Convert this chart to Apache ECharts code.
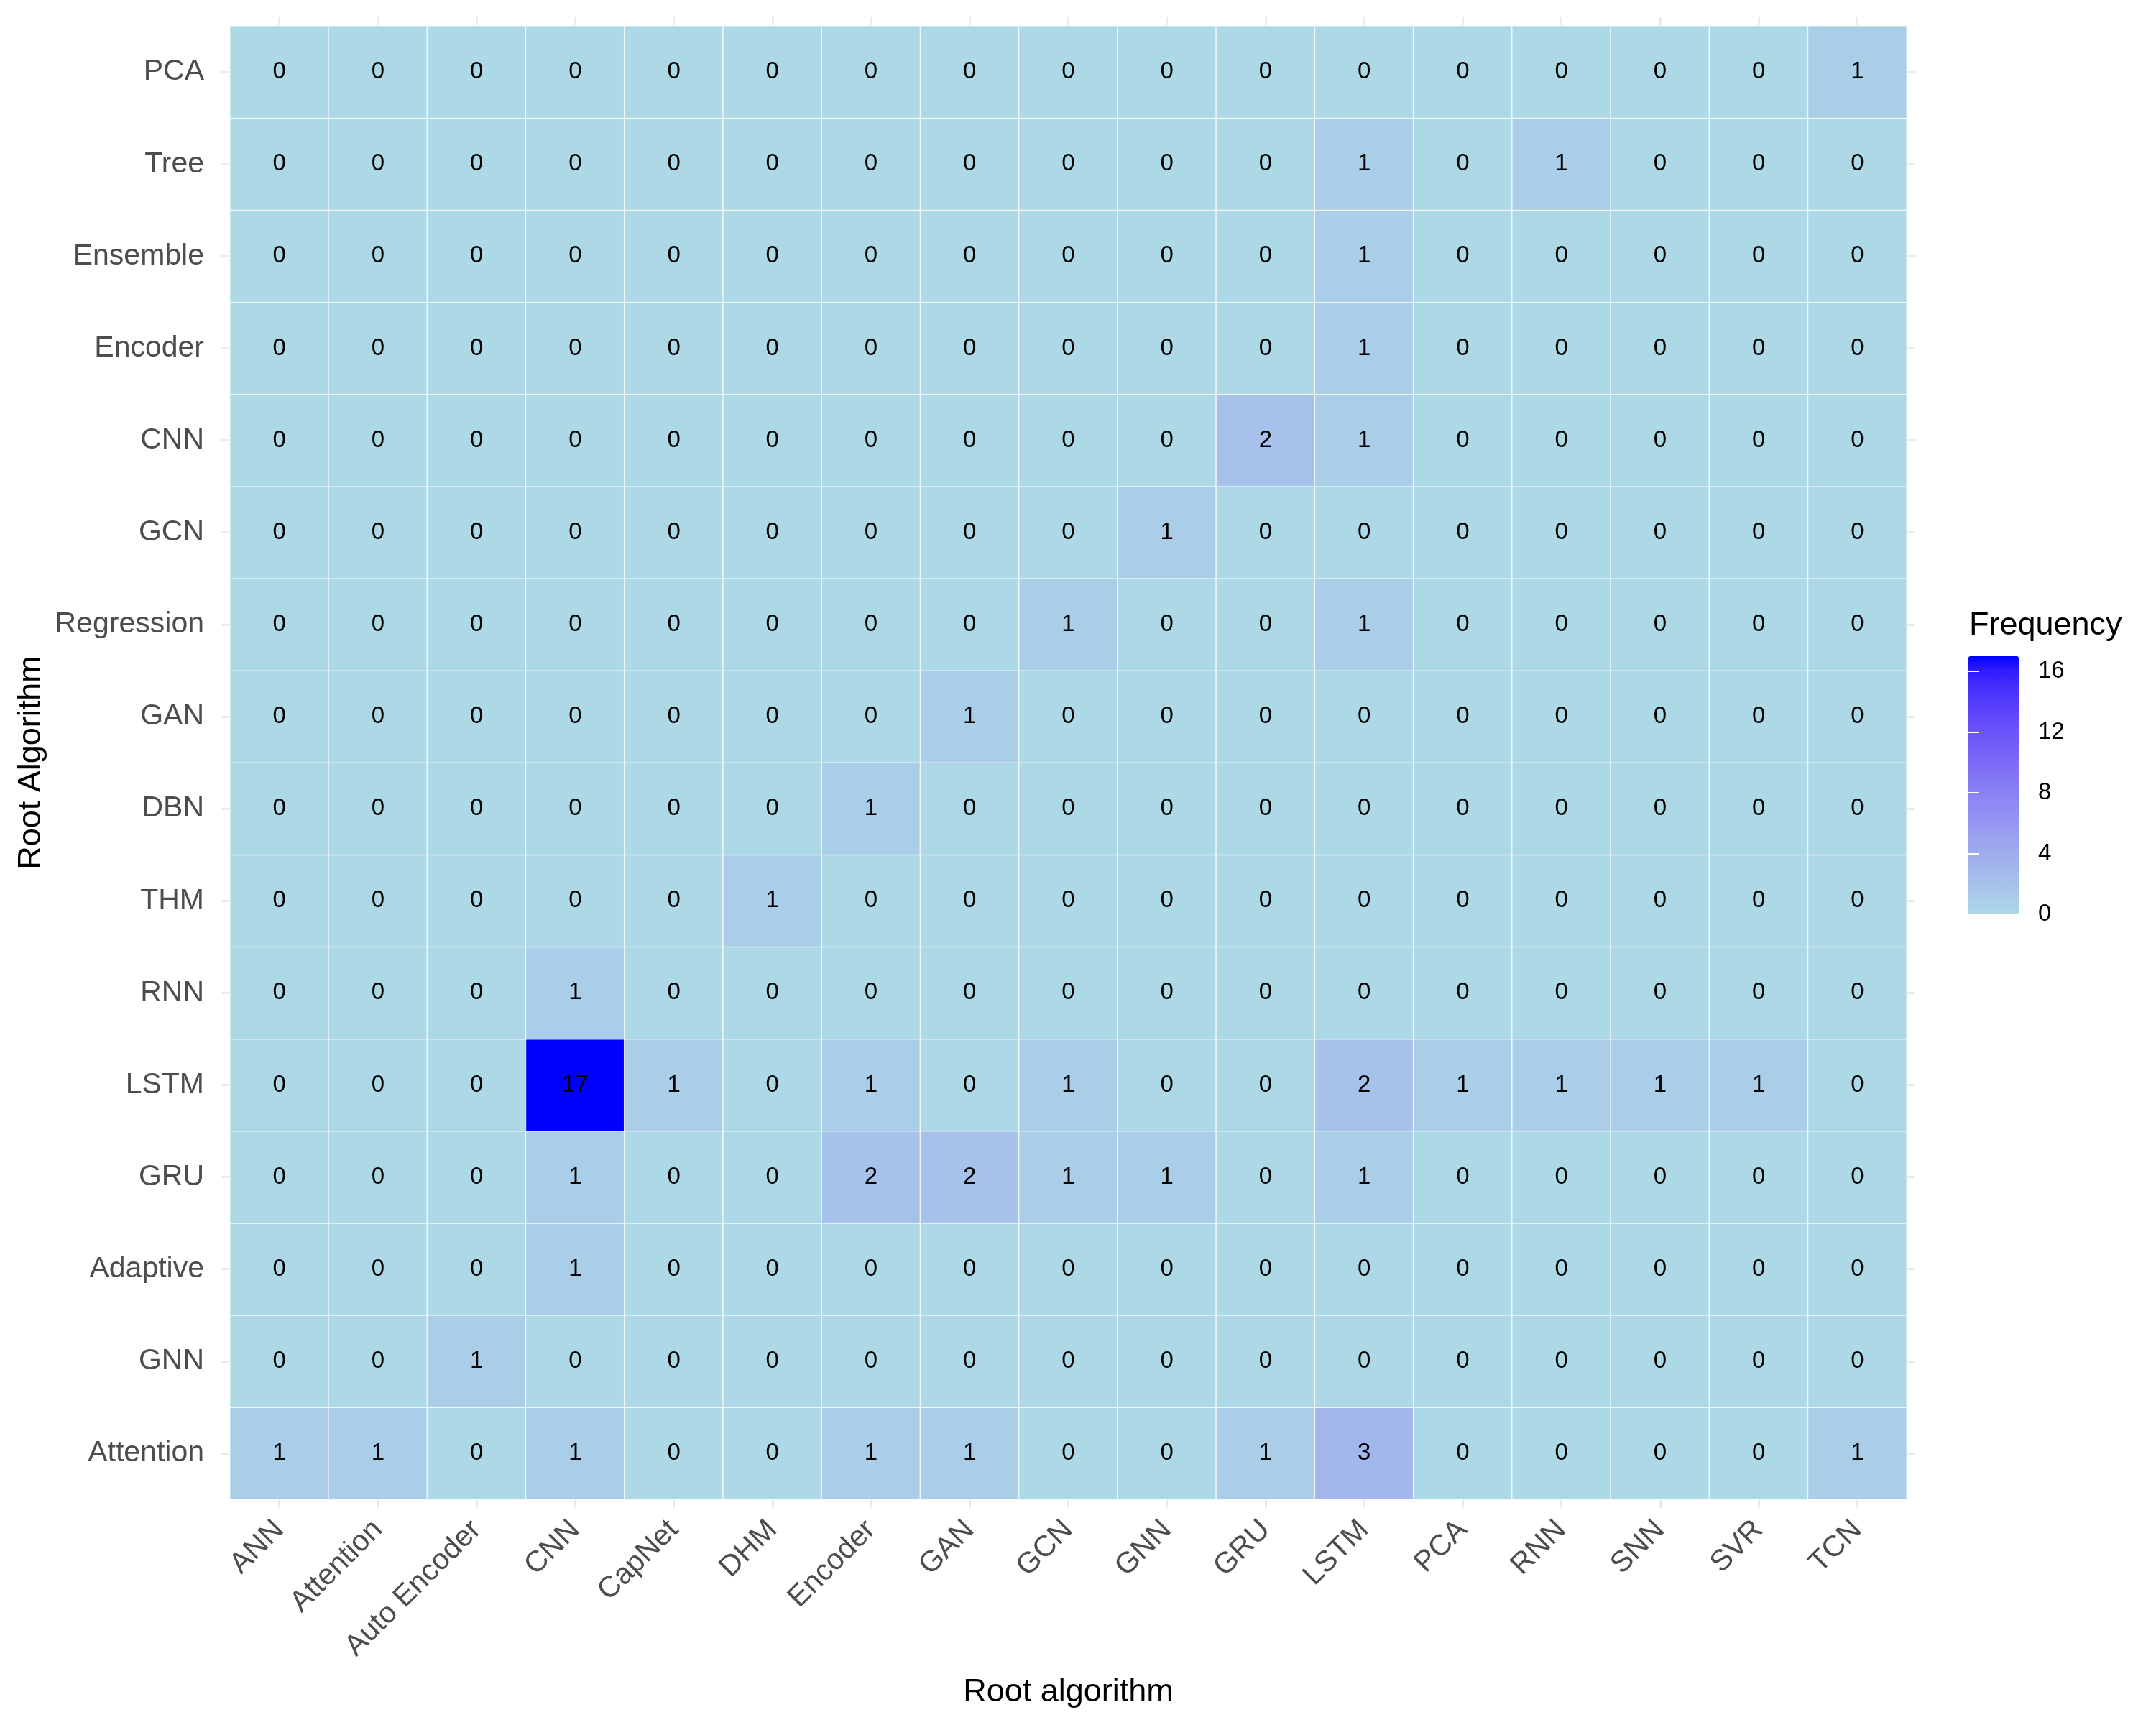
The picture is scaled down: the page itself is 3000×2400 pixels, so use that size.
<!DOCTYPE html>
<html>
<head>
<meta charset="utf-8">
<script src="https://cdn.jsdelivr.net/npm/echarts@6/dist/echarts.min.js"></script>
<style>
  html, body { margin: 0; padding: 0; background: #fff; }
  #chart { width: 3000px; height: 2400px; }
</style>
</head>
<body>
<div id="chart"></div>
<script>
  // x categories (root algorithm, columns)
  const xCategories = ['ANN', 'Attention', 'Auto Encoder', 'CNN', 'CapNet', 'DHM', 'Encoder', 'GAN',
    'GCN', 'GNN', 'GRU', 'LSTM', 'PCA', 'RNN', 'SNN', 'SVR', 'TCN'];

  // y categories, bottom to top
  const yCategories = ['Attention', 'GNN', 'Adaptive', 'GRU', 'LSTM', 'RNN', 'THM', 'DBN', 'GAN',
    'Regression', 'GCN', 'CNN', 'Encoder', 'Ensemble', 'Tree', 'PCA'];

  // one row per y category, values in xCategories order
  const rowAttention  = [1, 1, 0, 1, 0, 0, 1, 1, 0, 0, 1, 3, 0, 0, 0, 0, 1];
  const rowGNN        = [0, 0, 1, 0, 0, 0, 0, 0, 0, 0, 0, 0, 0, 0, 0, 0, 0];
  const rowAdaptive   = [0, 0, 0, 1, 0, 0, 0, 0, 0, 0, 0, 0, 0, 0, 0, 0, 0];
  const rowGRU        = [0, 0, 0, 1, 0, 0, 2, 2, 1, 1, 0, 1, 0, 0, 0, 0, 0];
  const rowLSTM       = [0, 0, 0, 17, 1, 0, 1, 0, 1, 0, 0, 2, 1, 1, 1, 1, 0];
  const rowRNN        = [0, 0, 0, 1, 0, 0, 0, 0, 0, 0, 0, 0, 0, 0, 0, 0, 0];
  const rowTHM        = [0, 0, 0, 0, 0, 1, 0, 0, 0, 0, 0, 0, 0, 0, 0, 0, 0];
  const rowDBN        = [0, 0, 0, 0, 0, 0, 1, 0, 0, 0, 0, 0, 0, 0, 0, 0, 0];
  const rowGAN        = [0, 0, 0, 0, 0, 0, 0, 1, 0, 0, 0, 0, 0, 0, 0, 0, 0];
  const rowRegression = [0, 0, 0, 0, 0, 0, 0, 0, 1, 0, 0, 1, 0, 0, 0, 0, 0];
  const rowGCN        = [0, 0, 0, 0, 0, 0, 0, 0, 0, 1, 0, 0, 0, 0, 0, 0, 0];
  const rowCNN        = [0, 0, 0, 0, 0, 0, 0, 0, 0, 0, 2, 1, 0, 0, 0, 0, 0];
  const rowEncoder    = [0, 0, 0, 0, 0, 0, 0, 0, 0, 0, 0, 1, 0, 0, 0, 0, 0];
  const rowEnsemble   = [0, 0, 0, 0, 0, 0, 0, 0, 0, 0, 0, 1, 0, 0, 0, 0, 0];
  const rowTree       = [0, 0, 0, 0, 0, 0, 0, 0, 0, 0, 0, 1, 0, 1, 0, 0, 0];
  const rowPCA        = [0, 0, 0, 0, 0, 0, 0, 0, 0, 0, 0, 0, 0, 0, 0, 0, 1];

  const rows = [rowAttention, rowGNN, rowAdaptive, rowGRU, rowLSTM, rowRNN, rowTHM, rowDBN, rowGAN,
    rowRegression, rowGCN, rowCNN, rowEncoder, rowEnsemble, rowTree, rowPCA];

  const legendTicks = [0, 4, 8, 12, 16];
  const valueMin = 0;
  const valueMax = 17;

  const font = 'Liberation Sans, Arial, sans-serif';
  const tickGrey = '#EBEBEB';

  // ggplot-like Lab interpolation between lightblue and blue
  const toLinear = (c) => { c /= 255; return c <= 0.04045 ? c / 12.92 : Math.pow((c + 0.055) / 1.055, 2.4); };
  const fromLinear = (c) => { const v = c <= 0.0031308 ? 12.92 * c : 1.055 * Math.pow(c, 1 / 2.4) - 0.055; return Math.round(Math.min(1, Math.max(0, v)) * 255); };
  const wp = [0.95047, 1, 1.08883];
  const f = (t) => (t > 216 / 24389 ? Math.cbrt(t) : (24389 / 27 * t + 16) / 116);
  const fi = (t) => (t * t * t > 216 / 24389 ? t * t * t : (116 * t - 16) / (24389 / 27));
  const rgbToLab = ([r, g, b]) => {
    const R = toLinear(r), G = toLinear(g), B = toLinear(b);
    const X = (0.4124 * R + 0.3576 * G + 0.1805 * B) / wp[0];
    const Y = (0.2126 * R + 0.7152 * G + 0.0722 * B) / wp[1];
    const Z = (0.0193 * R + 0.1192 * G + 0.9505 * B) / wp[2];
    const fx = f(X), fy = f(Y), fz = f(Z);
    return [116 * fy - 16, 500 * (fx - fy), 200 * (fy - fz)];
  };
  const labToRgb = ([L, a, bb]) => {
    const fy = (L + 16) / 116, fx = fy + a / 500, fz = fy - bb / 200;
    const X = fi(fx) * wp[0], Y = fi(fy) * wp[1], Z = fi(fz) * wp[2];
    const R = 3.2406 * X - 1.5372 * Y - 0.4986 * Z;
    const G = -0.9689 * X + 1.8758 * Y + 0.0415 * Z;
    const B = 0.0557 * X - 0.2040 * Y + 1.0570 * Z;
    return 'rgb(' + fromLinear(R) + ',' + fromLinear(G) + ',' + fromLinear(B) + ')';
  };
  const lowLab = rgbToLab([173, 216, 230]);
  const highLab = rgbToLab([0, 0, 255]);
  const gradient = [];
  for (let i = 0; i <= 20; i++) {
    const t = i / 20;
    gradient.push(labToRgb(lowLab.map((v, k) => v + (highLab[k] - v) * t)));
  }

  const heatData = [];
  rows.forEach((row, yi) => {
    row.forEach((v, xi) => heatData.push([xi, yi, v]));
  });

  const plot = { left: 320, top: 36, width: 2333, height: 2050 };
  const bar = { left: 2739, top: 913, width: 70, height: 359 };

  const chart = echarts.init(document.getElementById('chart'));

  chart.setOption({
    backgroundColor: '#ffffff',
    animation: false,
    textStyle: { fontFamily: font },
    grid: [
      { left: plot.left, top: plot.top, width: plot.width, height: plot.height, containLabel: false, outerBoundsMode: 'none' },
      { left: bar.left, top: bar.top, width: bar.width, height: bar.height, containLabel: false, outerBoundsMode: 'none' },
    ],
    xAxis: [
      {
        type: 'category',
        gridIndex: 0,
        data: xCategories,
        position: 'bottom',
        name: 'Root algorithm',
        nameLocation: 'middle',
        nameGap: 246,
        nameTextStyle: { fontSize: 45, color: '#000', fontFamily: font },
        axisLine: { show: false },
        axisTick: { show: true, alignWithLabel: true, length: 12, lineStyle: { color: tickGrey, width: 3 } },
        axisLabel: { rotate: 45, fontSize: 41, color: '#4D4D4D', margin: 36, interval: 0, fontFamily: font },
        splitLine: { show: false },
      },
      {
        type: 'category',
        gridIndex: 0,
        data: xCategories,
        position: 'top',
        axisLine: { show: false },
        axisTick: { show: true, alignWithLabel: true, length: 12, lineStyle: { color: tickGrey, width: 3 } },
        axisLabel: { show: false },
      },
      { type: 'value', gridIndex: 1, show: false, min: 0, max: 1 },
    ],
    yAxis: [
      {
        type: 'category',
        gridIndex: 0,
        data: yCategories,
        position: 'left',
        name: 'Root Algorithm',
        nameLocation: 'middle',
        nameGap: 254,
        nameRotate: 90,
        nameTextStyle: { fontSize: 45, color: '#000', fontFamily: font },
        axisLine: { show: false },
        axisTick: { show: true, alignWithLabel: true, length: 12, lineStyle: { color: tickGrey, width: 3 } },
        axisLabel: { fontSize: 41, color: '#4D4D4D', margin: 36, interval: 0, fontFamily: font },
        splitLine: { show: false },
      },
      {
        type: 'category',
        gridIndex: 0,
        data: yCategories,
        position: 'right',
        axisLine: { show: false },
        axisTick: { show: true, alignWithLabel: true, length: 12, lineStyle: { color: tickGrey, width: 3 } },
        axisLabel: { show: false },
      },
      {
        type: 'value',
        gridIndex: 1,
        position: 'right',
        min: valueMin,
        max: valueMax,
        axisLine: { show: false },
        splitLine: { show: false },
        axisTick: { show: true, inside: true, length: 15, customValues: legendTicks, lineStyle: { color: '#fff', width: 2 } },
        axisLabel: { fontSize: 33, color: '#000', margin: 27, customValues: legendTicks, fontFamily: font },
        z: 10,
      },
      {
        type: 'value',
        gridIndex: 1,
        position: 'left',
        min: valueMin,
        max: valueMax,
        axisLine: { show: false },
        splitLine: { show: false },
        axisTick: { show: true, inside: true, length: 15, customValues: legendTicks, lineStyle: { color: '#fff', width: 2 } },
        axisLabel: { show: false },
        z: 10,
      },
    ],
    visualMap: {
      type: 'continuous',
      min: valueMin,
      max: valueMax,
      calculable: false,
      orient: 'vertical',
      left: bar.left,
      top: bar.top,
      padding: 0,
      itemWidth: bar.width,
      itemHeight: bar.height,
      showLabel: false,
      inRange: { color: gradient },
      seriesIndex: 0,
      z: 1,
    },
    graphic: [
      {
        type: 'text',
        left: 2740,
        top: 848,
        style: { text: 'Frequency', fontSize: 45, fill: '#000', fontFamily: font },
      },
    ],
    series: [
      {
        type: 'heatmap',
        xAxisIndex: 0,
        yAxisIndex: 0,
        data: heatData,
        label: { show: true, fontSize: 33, color: '#000', fontFamily: font },
        itemStyle: { borderColor: 'rgba(255,255,255,0.75)', borderWidth: 1.5 },
        emphasis: { disabled: true },
      },
    ],
  });
</script>
</body>
</html>
